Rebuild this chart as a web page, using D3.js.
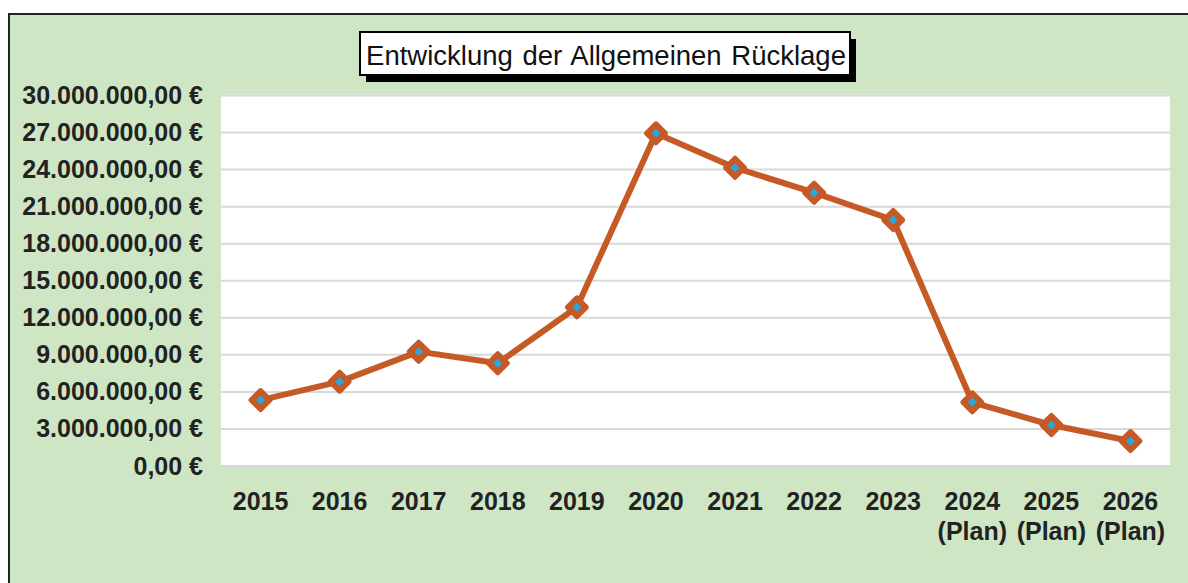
<!DOCTYPE html>
<html><head><meta charset="utf-8">
<script src="https://cdn.jsdelivr.net/npm/d3@7"></script>
<style>
html,body{margin:0;padding:0;background:#fff;}
svg{display:block;}
</style></head>
<body>
<svg id="chart" width="1188" height="583"></svg>
<script>
const categories = ["2015","2016","2017","2018","2019","2020","2021","2022","2023","2024 (Plan)","2025 (Plan)","2026 (Plan)"];
const values = [5340000, 6830000, 9260000, 8320000, 12850000, 26940000, 24150000, 22130000, 19920000, 5160000, 3320000, 2020000];
const yTicks = [0, 3000000, 6000000, 9000000, 12000000, 15000000, 18000000, 21000000, 24000000, 27000000, 30000000];
const title = "Entwicklung der Allgemeinen Rücklage";

const svg = d3.select("#chart");
const plot = {left: 221, right: 1170, top: 95.5, bottom: 466};

const de = d3.formatLocale({decimal: ",", thousands: ".", grouping: [3], currency: ["", " €"]});
const fmt = v => de.format(",.2f")(v) + " €";

// outer frame
svg.append("rect").attr("x", 9).attr("y", 14).attr("width", 1200).attr("height", 600)
  .attr("fill", "#cfe6c5").attr("stroke", "#1e2a1e").attr("stroke-width", 2);

// plot area
svg.append("rect").attr("x", plot.left).attr("y", plot.top - 1).attr("width", plot.right - plot.left)
  .attr("height", plot.bottom - plot.top + 1).attr("fill", "#ffffff");

const x = d3.scaleBand().domain(categories).range([plot.left, plot.right]).padding(0);
const y = d3.scaleLinear().domain([0, 30000000]).range([plot.bottom, plot.top]);

// gridlines
svg.append("g").selectAll("line").data(yTicks).join("line")
  .attr("x1", plot.left).attr("x2", plot.right)
  .attr("y1", d => y(d)).attr("y2", d => y(d))
  .attr("stroke", "#d9d9d9").attr("stroke-width", 2);

// y axis
const yAxis = svg.append("g").attr("transform", `translate(${plot.left},0)`)
  .call(d3.axisLeft(y).tickValues(yTicks).tickFormat(fmt).tickSize(0).tickPadding(18));
yAxis.select(".domain").remove();
yAxis.selectAll("text")
  .attr("font-family", "'Liberation Sans Narrow', 'Arial Narrow', 'Liberation Sans', sans-serif")
  .attr("font-weight", "bold").attr("font-size", 25).attr("fill", "#222")
  .attr("textLength", null);

// x axis
const xAxis = svg.append("g").attr("transform", `translate(0,${plot.bottom})`)
  .call(d3.axisBottom(x).tickSize(0).tickFormat(""));
xAxis.select(".domain").remove();
xAxis.selectAll(".tick").each(function(d) {
  const parts = d.split(" ");
  const t = d3.select(this).append("text")
    .attr("font-family", "'Liberation Sans Narrow', 'Arial Narrow', 'Liberation Sans', sans-serif")
    .attr("font-weight", "bold").attr("font-size", 25).attr("fill", "#222")
    .attr("text-anchor", "middle");
  parts.forEach((p, i) => {
    t.append("tspan").attr("x", 0).attr("y", 44 + i * 30).text(p);
  });
});

// line
const cx = d => x(d) + x.bandwidth() / 2;
const pts = categories.map((c, i) => [cx(c), y(values[i])]);
svg.append("path").datum(pts)
  .attr("d", d3.line())
  .attr("fill", "none").attr("stroke", "#c55a26").attr("stroke-width", 6)
  .attr("stroke-linejoin", "round");

// markers
const outer = d3.symbol().type(d3.symbolSquare).size(180)();
const inner = d3.symbol().type(d3.symbolSquare).size(40)();
const mk = svg.append("g").selectAll("g").data(pts).join("g")
  .attr("transform", d => `translate(${d[0]},${d[1]}) rotate(45)`);
mk.append("path").attr("d", outer).attr("fill", "#c55a26").attr("stroke", "#c55a26")
  .attr("stroke-width", 5).attr("stroke-linejoin", "round");
mk.append("path").attr("d", inner).attr("fill", "#29a8df");

// title box
const tb = {x: 360, y: 32, w: 490, h: 43};
svg.append("rect").attr("x", tb.x + 6).attr("y", tb.y + 7).attr("width", tb.w).attr("height", tb.h).attr("fill", "#000");
svg.append("rect").attr("x", tb.x).attr("y", tb.y).attr("width", tb.w).attr("height", tb.h)
  .attr("fill", "#fff").attr("stroke", "#000").attr("stroke-width", 2);
svg.append("text").attr("x", tb.x + tb.w / 2 + 1).attr("y", tb.y + 33)
  .attr("text-anchor", "middle")
  .attr("font-family", "'Liberation Sans', Arial, sans-serif").attr("font-size", 27.5)
  .attr("word-spacing", 2)
  .attr("fill", "#111").text(title);
</script>
</body></html>
